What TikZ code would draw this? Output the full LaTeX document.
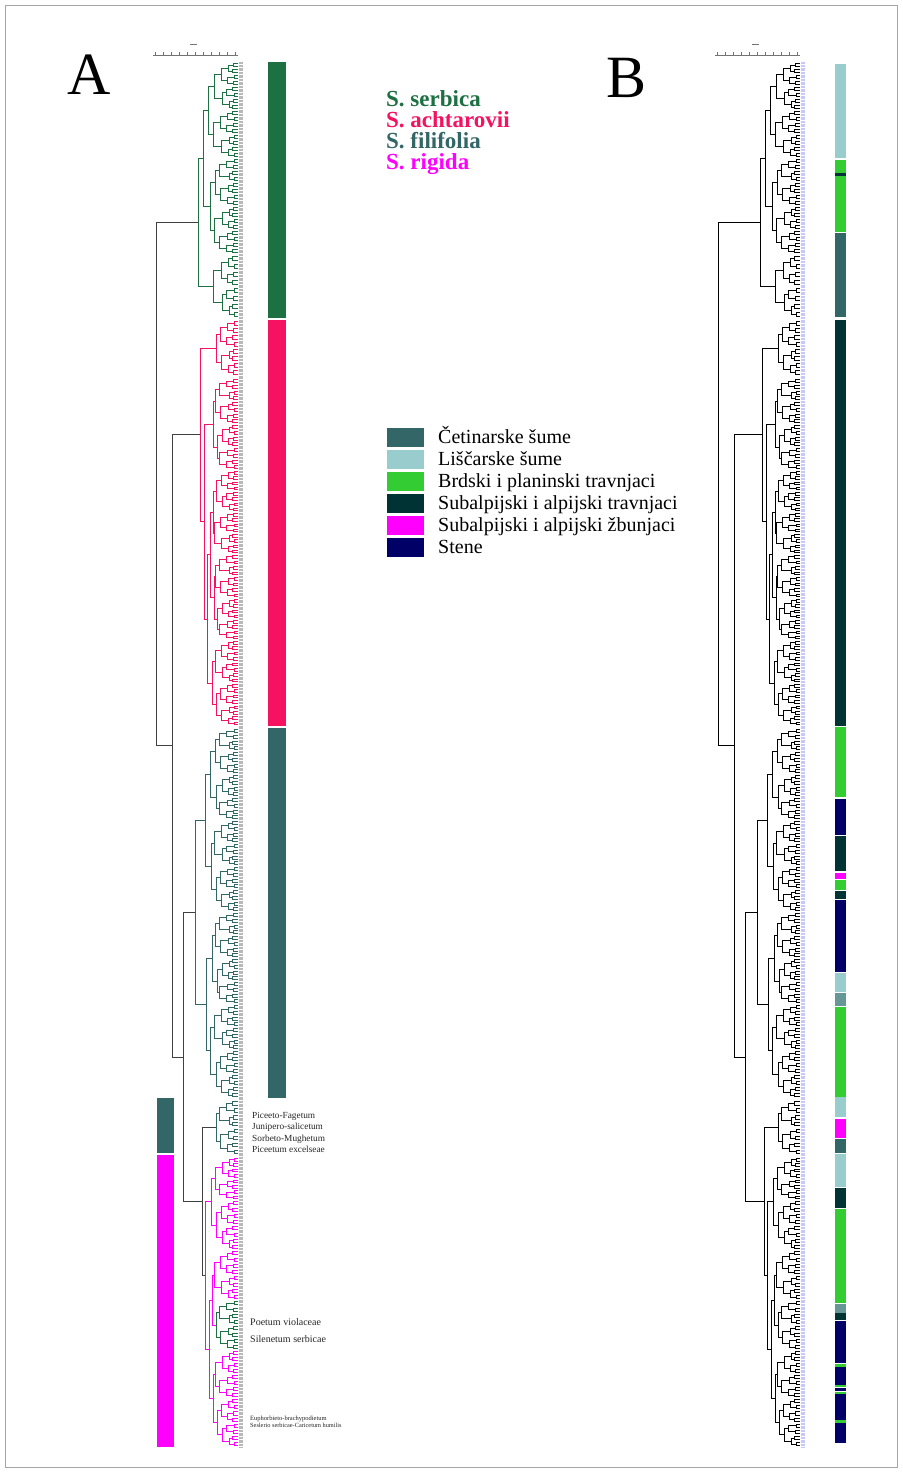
\documentclass[tikz,border=0pt]{standalone}
\usepackage{fontspec}
\setmainfont{Liberation Serif}

% species colours
\definecolor{serbCol}{RGB}{28,112,66}
\definecolor{achtCol}{RGB}{245,18,96}
\definecolor{filiCol}{RGB}{51,102,102}
\definecolor{rigCol}{RGB}{255,0,255}
% habitat colours
\definecolor{cetCol}{RGB}{51,102,102}
\definecolor{lisCol}{RGB}{153,204,204}
\definecolor{brdCol}{RGB}{51,204,51}
\definecolor{subtCol}{RGB}{0,51,51}
\definecolor{subzCol}{RGB}{255,0,255}
\definecolor{steCol}{RGB}{0,0,102}
\definecolor{cetlCol}{RGB}{102,150,150}

% fine part of a clade: 16 leaves from y=#1 to y=#2, style #3, seed #4, top node at x=#5
\newcommand{\fineclade}[5]{%
  \pgfmathsetmacro{\dd}{(#2-#1)/16}
  \foreach \m in {0,...,7}{
    \pgfmathsetmacro{\xa}{234-mod(7*\m+#4,3)}
    \draw[#3] (238,{#1+(2*\m+0.5)*\dd}) -| (\xa,{#1+(2*\m+1.5)*\dd}) -- (238,{#1+(2*\m+1.5)*\dd});
  }
  \foreach \m in {0,...,3}{
    \pgfmathsetmacro{\xb}{229-mod(5*\m+#4,4)}
    \pgfmathsetmacro{\xp}{234-mod(7*(2*\m)+#4,3)}
    \pgfmathsetmacro{\xq}{234-mod(7*(2*\m+1)+#4,3)}
    \draw[#3] (\xp,{#1+(4*\m+1)*\dd}) -| (\xb,{#1+(4*\m+3)*\dd}) -- (\xq,{#1+(4*\m+3)*\dd});
  }
  \foreach \m in {0,1}{
    \pgfmathsetmacro{\xc}{222-mod(3*\m+#4,4)}
    \pgfmathsetmacro{\xp}{229-mod(5*(2*\m)+#4,4)}
    \pgfmathsetmacro{\xq}{229-mod(5*(2*\m+1)+#4,4)}
    \draw[#3] (\xp,{#1+(8*\m+2)*\dd}) -| (\xc,{#1+(8*\m+6)*\dd}) -- (\xq,{#1+(8*\m+6)*\dd});
  }
  \pgfmathsetmacro{\xp}{222-mod(#4,4)}
  \pgfmathsetmacro{\xq}{222-mod(3+#4,4)}
  \draw[#3] (\xp,{#1+4*\dd}) -| (#5,{#1+12*\dd}) -- (\xq,{#1+12*\dd});
}

% one bracket: style #1, node at x=#2, children (#3,#4) and (#5,#6)
\newcommand{\joinclade}[6]{%
  \draw[#1] (#3,#4) -| (#2,#6) -- (#5,#6);
}

% the whole dendrogram (drawn for A, shifted for B)
\newcommand{\drawtree}{%
  % scale bar
  \draw[scalebar] (153,55) -- (238,55);
  \foreach \k in {0,...,10} \draw[scalebar] ({155+8*\k},55) -- ({155+8*\k},52);
  \draw[scalebar] (190,44) -- (197,44);
  % leaf labels
  \draw[leafstrip] (241,62) -- (241,1447);
  % ---- S. serbica
  \fineclade{62}{110}{serb}{1}{214}
  \fineclade{110}{158}{serb}{2}{213}
  \fineclade{158}{206}{serb}{3}{215}
  \fineclade{206}{254}{serb}{4}{214}
  \fineclade{254}{318}{serb}{5}{213}
  \joinclade{serb}{208}{214}{86}{213}{134}
  \joinclade{serb}{210}{215}{182}{214}{230}
  \joinclade{serb}{203}{208}{110}{210}{206}
  \joinclade{serb}{198}{203}{158}{213}{286}
  % ---- S. achtarovii
  \fineclade{320}{376}{acht}{6}{216}
  \fineclade{378}{424}{acht}{7}{215}
  \fineclade{424}{470}{acht}{8}{217}
  \fineclade{470}{512}{acht}{9}{216}
  \fineclade{512}{554}{acht}{10}{214}
  \fineclade{554}{598}{acht}{11}{215}
  \fineclade{598}{640}{acht}{12}{217}
  \fineclade{640}{683}{acht}{13}{215}
  \fineclade{683}{726}{acht}{14}{216}
  \joinclade{acht}{213}{215}{401}{217}{447}
  \joinclade{acht}{213}{216}{491}{214}{533}
  \joinclade{acht}{214}{215}{576}{217}{619}
  \joinclade{acht}{212}{215}{661.5}{216}{704.5}
  \joinclade{acht}{210}{213}{512}{214}{597.5}
  \joinclade{acht}{207}{210}{554.75}{212}{683}
  \joinclade{acht}{204}{213}{424}{207}{618.875}
  \joinclade{acht}{200}{216}{348}{204}{521.4375}
  % ---- S. filifolia
  \fineclade{728}{774}{fili}{15}{215}
  \fineclade{774}{820}{fili}{16}{216}
  \fineclade{820}{866}{fili}{17}{214}
  \fineclade{866}{912}{fili}{18}{216}
  \fineclade{912}{958}{fili}{19}{215}
  \fineclade{958}{1004}{fili}{20}{217}
  \fineclade{1004}{1050}{fili}{21}{214}
  \fineclade{1050}{1098}{fili}{22}{216}
  \joinclade{fili}{210}{215}{751}{216}{797}
  \joinclade{fili}{211}{214}{843}{216}{889}
  \joinclade{fili}{212}{215}{935}{217}{981}
  \joinclade{fili}{210}{214}{1027}{216}{1074}
  \joinclade{fili}{205}{210}{774}{211}{866}
  \joinclade{fili}{206}{212}{958}{210}{1050.5}
  \joinclade{fili}{195}{205}{820}{206}{1004.25}
  \fineclade{1100}{1155}{fili}{23}{216}
  % ---- S. rigida
  \fineclade{1157}{1200}{rig}{24}{215}
  \fineclade{1200}{1250}{rig}{25}{216}
  \fineclade{1250}{1300}{rig}{26}{214}
  \fineclade{1300}{1350}{serb}{27}{216}
  \fineclade{1350}{1398}{rig}{28}{215}
  \fineclade{1398}{1447}{rig}{29}{217}
  \joinclade{rig}{211}{215}{1178.5}{216}{1225}
  \joinclade{rig}{212}{214}{1275}{216}{1325}
  \joinclade{rig}{213}{215}{1374}{217}{1422.5}
  \joinclade{rig}{209}{212}{1300}{213}{1398.25}
  \joinclade{rig}{205}{211}{1201.75}{209}{1349.125}
  % ---- links between the groups
  \joinclade{link}{202}{216}{1127.5}{205}{1275.44}
  \joinclade{link}{183}{195}{912.125}{202}{1201.47}
  \joinclade{link}{172}{200}{434.72}{183}{1056.8}
  \joinclade{link}{156}{198}{222}{172}{745.76}
}

\begin{document}
\begin{tikzpicture}[x=1pt, y=-1pt]
  \tikzset{
    serb/.style={serbCol, line width=0.6pt},
    acht/.style={achtCol, line width=0.6pt},
    fili/.style={filiCol, line width=0.6pt},
    rig/.style={rigCol, line width=0.6pt},
    link/.style={black!75, line width=0.6pt},
    treeB/.style={black, line width=0.6pt},
    scalebar/.style={black!55, line width=0.5pt},
    leafstrip/.style={black!28, line width=4pt, dash pattern=on 0.7pt off 0.7pt},
    bigletter/.style={anchor=base west, inner sep=0pt, font=\fontsize{60}{60}\selectfont},
    species/.style={anchor=base west, inner sep=0pt, text depth=0pt, text height=15pt,
      font=\bfseries\fontsize{23}{23}\selectfont},
    legtext/.style={anchor=base west, inner sep=0pt, font=\fontsize{20}{20}\selectfont},
    assoc/.style={anchor=base west, inner sep=0pt, text=black!85}
  }
  \useasboundingbox (0,0) rectangle (902,1472);
  \fill[white] (0,0) rectangle (902,1472);
  \draw[black!35, line width=0.8pt] (5,5) rectangle (897,1467);

  % ==========================================
  % PANEL A: dendrogram coloured by species
  % ==========================================
  \node[bigletter] (lblA) at (67,95) {A};
  \drawtree
  % species bars
  \fill[serbCol] (268,62) rectangle (286,318);
  \fill[achtCol] (268,320) rectangle (286,726);
  \fill[filiCol] (268,728) rectangle (286,1098);
  \fill[filiCol] (157,1098) rectangle (174,1153);
  \fill[rigCol] (157,1155) rectangle (174,1447);

  % associations
  \node[assoc, font=\fontsize{9.3}{10}\selectfont] (picfag) at (252,1118) {Piceeto-Fagetum};
  \node[assoc, font=\fontsize{9.3}{10}\selectfont] (junsal) at (252,1129) {Junipero-salicetum};
  \node[assoc, font=\fontsize{9.3}{10}\selectfont] (sormug) at (252,1141) {Sorbeto-Mughetum};
  \node[assoc, font=\fontsize{9.3}{10}\selectfont] (picexc) at (252,1152) {Piceetum excelseae};
  \node[assoc, font=\fontsize{10}{11}\selectfont] (poevio) at (250,1325) {Poetum violaceae};
  \node[assoc, font=\fontsize{10}{11}\selectfont] (silser) at (250,1342) {Silenetum serbicae};
  \node[assoc, font=\fontsize{6.5}{7}\selectfont] (eupbra) at (250,1420) {Euphorbieto-brachypodietum};
  \node[assoc, font=\fontsize{6.3}{7}\selectfont] (sesser) at (250,1427) {Seslerio serbicae-Caricetum humilis};

  % species legend
  \node[species, text=serbCol] (serbica) at (386,106) {S. serbica};
  \node[species, text=achtCol] (achtarovii) at (386,127) {S. achtarovii};
  \node[species, text=filiCol] (filifolia) at (386,148) {S. filifolia};
  \node[species, text=rigCol] (rigida) at (386,169) {S. rigida};

  % habitat legend
  \foreach \cc/\txt [count=\i] in {cetCol/Četinarske šume, lisCol/Liščarske šume,
      brdCol/Brdski i planinski travnjaci, subtCol/Subalpijski i alpijski travnjaci,
      subzCol/Subalpijski i alpijski žbunjaci, steCol/Stene}{
    \fill[\cc] (387,{428+22*(\i-1)}) rectangle (424,{447+22*(\i-1)});
    \node[legtext] (leg\i) at (438,{443+22*(\i-1)}) {\txt};
  }

  % ==========================================
  % PANEL B: same dendrogram, habitats
  % ==========================================
  \node[bigletter] (lblB) at (606,97) {B};
  \begin{scope}[xshift=562pt, serb/.style={treeB}, acht/.style={treeB},
      fili/.style={treeB}, rig/.style={treeB}, link/.style={treeB},
      leafstrip/.style={blue!22, line width=4pt, dash pattern=on 0.7pt off 0.7pt}]
    \drawtree
  \end{scope}
  % habitat bar
  \foreach \ya/\yb/\cc in {64/158/lisCol, 160/232/brdCol, 173/176/subtCol, 233/317/cetCol,
      320/726/subtCol, 727/797/brdCol, 799/835/steCol, 836/871/subtCol, 873/879/subzCol,
      880/890/brdCol, 891/899/subtCol, 900/972/steCol, 973/992/lisCol, 993/1006/cetlCol,
      1007/1097/brdCol, 1097/1117/lisCol, 1119/1138/subzCol, 1139/1153/cetCol,
      1154/1187/lisCol, 1188/1208/subtCol, 1209/1303/brdCol, 1304/1313/cetlCol,
      1313/1320/subtCol, 1321/1363/steCol, 1364/1367/brdCol, 1367/1385/steCol,
      1385/1387/brdCol, 1388/1391/steCol, 1392/1394/brdCol, 1394/1420/steCol,
      1420/1423/brdCol, 1423/1443/steCol}{
    \fill[\cc] (835,\ya) rectangle (846,\yb);
  }
\end{tikzpicture}
\end{document}
